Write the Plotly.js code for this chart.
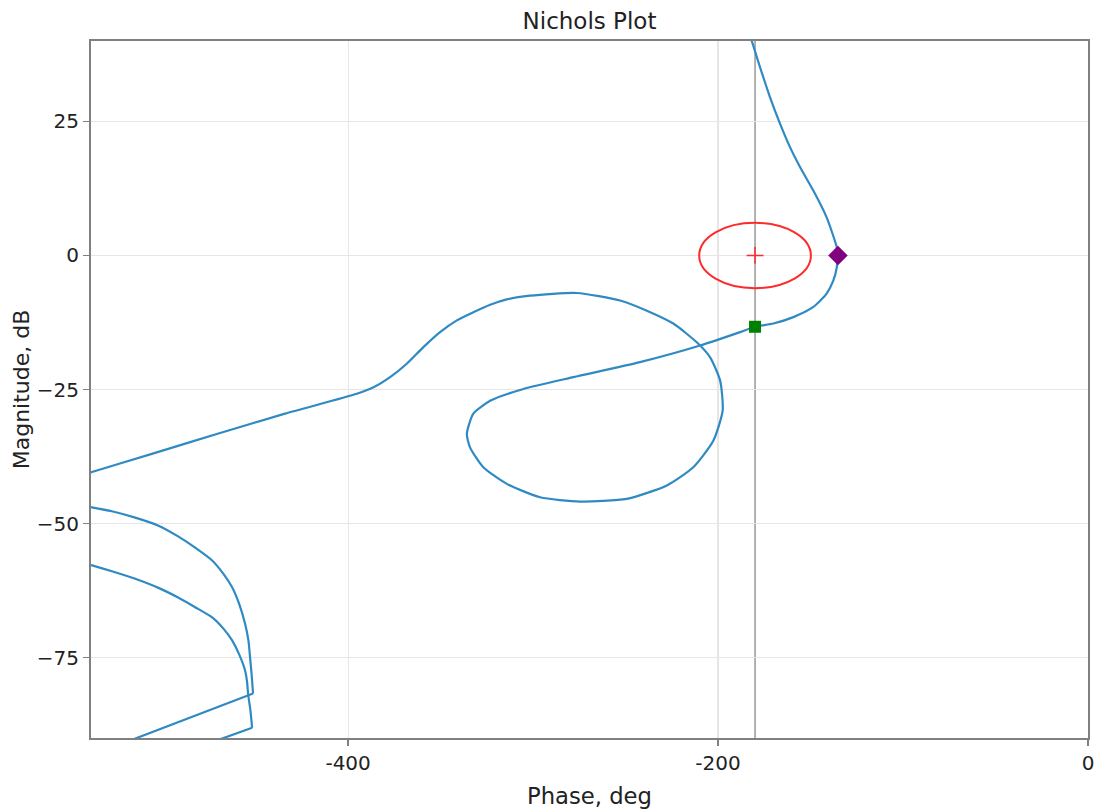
<!DOCTYPE html>
<html>
<head>
<meta charset="utf-8">
<script src="https://cdn.plot.ly/plotly-3.0.1.min.js"></script>
<style>html,body{margin:0;padding:0;background:#fff;}#chart{width:1099px;height:809px;}</style>
</head>
<body>
<div id="chart"></div>
<script>
// Main Nichols curve (phase deg, magnitude dB)
const phaseMain = [-185.4, -181.3, -177.3, -171.9, -166.5, -161.1, -155.7, -148.5, -141.3, -135.8, -135.4,
  -135.8, -137.7, -141.3, -148.5, -159.3, -170.1, -180.0,
  -188.1, -209.7, -242.2, -278.2, -305.2, -323.2, -332.3, -335.8,
  -334.1, -326.9, -314.2, -296.2, -274.6, -249.4, -227.7, -213.4, -202.5, -197.5,
  -198.9, -204.3, -211.5, -224.2, -238.5, -253.0, -276.4, -301.6,
  -314.2, -323.2, -332.3, -341.2, -350.3, -359.3, -368.3, -377.3, -386.3, -395.3,
  -434.1, -470.1, -506.1, -538.5, -560.0];
const magMain = [43.8, 39.5, 35.1, 29.5, 24.6, 20.2, 16.5, 12.1, 7.1, 1.5, 0.0,
  -2.2, -4.7, -7.1, -9.6, -11.5, -12.7, -13.3,
  -14.3, -16.8, -19.9, -22.7, -24.9, -27.1, -29.5, -33.3,
  -35.8, -39.5, -42.6, -45.1, -45.9, -45.4, -42.9, -39.5, -34.5, -28.9,
  -23.3, -19.0, -16.2, -12.7, -10.3, -8.4, -7.0, -7.5,
  -8.2, -9.2, -10.6, -12.1, -14.3, -17.1, -20.2, -22.7, -24.6, -25.8,
  -29.5, -33.2, -37.0, -40.4, -42.7];
// Lower-left wrapped branches: curved arcs, then straight tails
const phaseArcA = [-543.8, -538.4, -527.7, -515.1, -502.5, -491.9, -482.7, -473.5, -467.4, -462.7, -458.9, -455.7, -453.9, -453.0, -452.1, -451.4];
const magArcA = [-46.6, -47.0, -47.7, -48.9, -50.4, -52.4, -54.5, -56.9, -59.4, -61.9, -65.0, -68.7, -71.8, -75.0, -78.4, -81.7];
const phaseTailA = [-451.4, -559.7];
const magTailA = [-81.7, -96.0];
const phaseArcB = [-545.0, -538.4, -527.7, -515.1, -502.5, -491.9, -482.7, -473.5, -467.4, -462.7, -458.9, -455.7, -454.6, -454.1, -452.8, -451.9];
const magArcB = [-57.2, -57.8, -58.9, -60.3, -62.0, -63.8, -65.6, -67.5, -69.6, -71.8, -74.4, -77.4, -79.6, -81.7, -84.9, -88.1];
const phaseTailB = [-451.9, -500.5];
const magTailB = [-88.1, -94.1];

// Stability point and margins
const criticalPoint = [-180, 0];
const gainMarginPoint = [-180, -13.3];
const phaseMarginPoint = [-135.2, 0];
const marginEllipsePhase = [-210.2, -149.8];
const marginEllipseMag = [-6.1, 6.1];

// Axes
const xRange = [-539, 0];
const yRange = [-90, 40];
const xTickVals = [-400, -200, 0];
const xTickText = ['-400', '-200', '0'];
const yTickVals = [-75, -50, -25, 0, 25];
const yTickText = ['\u221275', '\u221250', '\u221225', '0', '25'];

const FONT = 'DejaVu Sans, sans-serif';
const BLUE = '#2f8ac4';

function curve(x, y, shape) {
  return {x: x, y: y, mode: 'lines', hoverinfo: 'skip',
    line: {color: BLUE, width: 2.2, shape: shape, smoothing: 0.6}};
}

const traces = [
  curve(phaseMain, magMain, 'spline'),
  curve(phaseArcA, magArcA, 'spline'),
  curve(phaseTailA, magTailA, 'linear'),
  curve(phaseArcB, magArcB, 'spline'),
  curve(phaseTailB, magTailB, 'linear'),
  {x: [criticalPoint[0]], y: [criticalPoint[1]], mode: 'markers',
   marker: {symbol: 'cross-thin', size: 12, line: {color: '#ff2a2a', width: 1.5}, color: '#ff2a2a'}},
  {x: [phaseMarginPoint[0]], y: [phaseMarginPoint[1]], mode: 'markers',
   marker: {symbol: 'diamond', size: 15, color: '#800080'}},
  {x: [gainMarginPoint[0]], y: [gainMarginPoint[1]], mode: 'markers',
   marker: {symbol: 'square', size: 12, color: '#008000'}}
];

const axisCommon = {
  showline: true, linecolor: '#808080', linewidth: 2, mirror: true,
  ticks: 'outside', ticklen: 6, tickwidth: 1.5, tickcolor: '#808080',
  showgrid: true, gridcolor: '#e6e6e6', gridwidth: 1.2,
  zeroline: false, tickfont: {family: FONT, size: 20, color: '#222'}
};

const layout = {
  width: 1099, height: 809,
  margin: {l: 91, r: 11, t: 41, b: 71},
  paper_bgcolor: '#ffffff', plot_bgcolor: '#ffffff',
  showlegend: false,
  title: {text: 'Nichols Plot', font: {family: FONT, size: 23, color: '#222'}, x: 0.5364, xanchor: 'center', y: 0.974, yanchor: 'middle'},
  xaxis: Object.assign({}, axisCommon, {
    range: xRange, tickvals: xTickVals, ticktext: xTickText,
    title: {text: 'Phase, deg', font: {family: FONT, size: 22.7, color: '#222'}, standoff: 14}
  }),
  yaxis: Object.assign({}, axisCommon, {
    range: yRange, tickvals: yTickVals, ticktext: yTickText,
    title: {text: 'Magnitude, dB', font: {family: FONT, size: 22, color: '#222'}, standoff: 1}
  }),
  shapes: [
    {type: 'line', xref: 'x', yref: 'paper', x0: criticalPoint[0], x1: criticalPoint[0], y0: 0, y1: 1,
     line: {color: '#999999', width: 1.5}, layer: 'below'},
    {type: 'circle', xref: 'x', yref: 'y', x0: marginEllipsePhase[0], x1: marginEllipsePhase[1],
     y0: marginEllipseMag[0], y1: marginEllipseMag[1], line: {color: '#ff2a2a', width: 2}}
  ]
};

Plotly.newPlot('chart', traces, layout, {displayModeBar: false, staticPlot: true});
</script>
</body>
</html>
